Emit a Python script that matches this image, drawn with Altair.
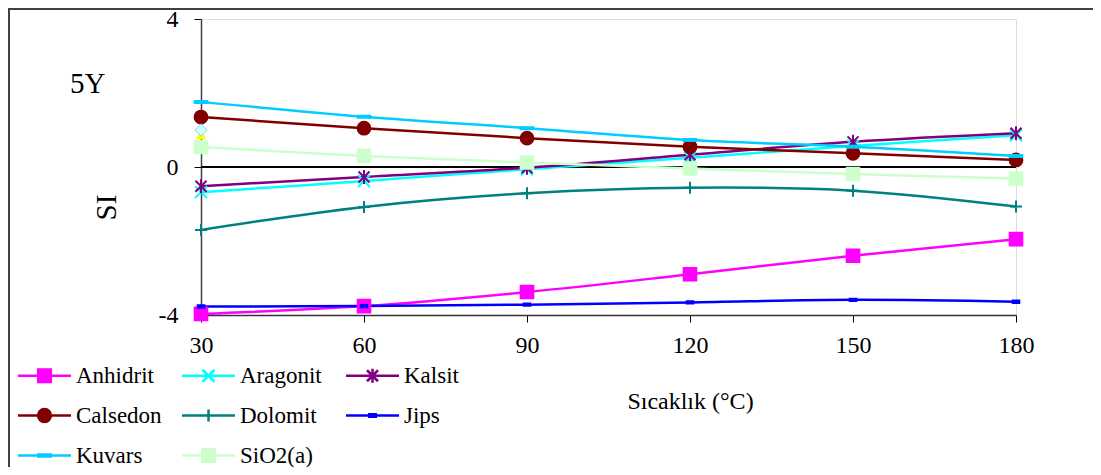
import altair as alt
import pandas as pd

# ---------------- data ----------------
temps = [30, 60, 90, 120, 150, 180]
series_names = ["Anhidrit", "Aragonit", "Kalsit", "Calsedon", "Dolomit", "Jips", "Kuvars", "SiO2(a)"]
anhidrit = [-3.97, -3.76, -3.38, -2.90, -2.40, -1.95]
aragonit = [-0.68, -0.38, -0.06, 0.25, 0.57, 0.86]
kalsit = [-0.52, -0.27, -0.02, 0.33, 0.68, 0.91]
calsedon = [1.35, 1.05, 0.78, 0.55, 0.37, 0.19]
dolomit = [-1.70, -1.08, -0.71, -0.56, -0.64, -1.07]
jips = [-3.77, -3.76, -3.72, -3.66, -3.59, -3.64]
kuvars = [1.76, 1.36, 1.05, 0.73, 0.55, 0.30]
sio2 = [0.54, 0.30, 0.12, -0.04, -0.19, -0.31]
series_values = [anhidrit, aragonit, kalsit, calsedon, dolomit, jips, kuvars, sio2]

# two stray single markers at 30 °C
extra_temp = [30]
diamond_si = [1.0]
triangle_si = [0.88]

x_ticks = [30, 60, 90, 120, 150, 180]
y_ticks = [-4, 0, 4]

# ---------------- styles ----------------
colors = ["#FF00FF", "#00FFFF", "#800080", "#800000", "#008080", "#0000FF", "#00CCFF", "#CCFFCC"]
FONT = "Liberation Serif"


def f(v):
    return f"{v:.3f}"


def square(h, u):
    a = h / u
    return f"M{f(-a)},{f(-a)}H{f(a)}V{f(a)}H{f(-a)}Z"


def rect(w, h, u):
    a, b = w / u, h / u
    return f"M{f(-a)},{f(-b)}H{f(a)}V{f(b)}H{f(-a)}Z"


def xmark(h, u):
    a = h / u
    return f"M{f(-a)},{f(-a)}L{f(a)},{f(a)}M{f(-a)},{f(a)}L{f(a)},{f(-a)}"


def asterisk(h, v, u):
    return xmark(h, u) + f"M0,{f(-v / u)}V{f(v / u)}"


def plus(h, u):
    a = h / u
    return f"M{f(-a)},0H{f(a)}M0,{f(-a)}V{f(a)}"


def circle(r, u):
    a = r / u
    return f"M{f(a)},0A{f(a)},{f(a)},0,1,1,{f(-a)},0A{f(a)},{f(a)},0,1,1,{f(a)},0Z"


def markers(u):
    return [
        square(6.3, u),
        xmark(6.0, u),
        asterisk(5.5, 7.0, u),
        circle(6.4, u),
        plus(6.0, u),
        rect(3.3, 1.2, u),
        rect(6.3, 1.0, u),
        square(6.3, u),
    ]


POINT_SIZE = 144.0               # unit = sqrt(size)/2 = 6 px
point_unit = POINT_SIZE ** 0.5 / 2
chart_paths = markers(point_unit)

LEG_SIZE = 175.5625              # unit = 6.625 px -> line of 53 px
leg_unit = LEG_SIZE ** 0.5 / 2
leg_line = f"M{f(-26.5 / leg_unit)},0H{f(26.5 / leg_unit)}"
legend_paths = [leg_line + p for p in markers(leg_unit)]

shape_expr = "'circle'"
for name, p in reversed(list(zip(series_names, legend_paths))):
    shape_expr = f"datum.value === '{name}' ? '{p}' : ({shape_expr})"

# ---------------- table ----------------
rows = []
for name, vals in zip(series_names, series_values):
    for t, v in zip(temps, vals):
        rows.append({"temp": t, "SI": v, "series": name})
df = pd.DataFrame(rows)

color_scale = alt.Scale(domain=series_names, range=colors)
# helper scales get one unused extra entry so that their (hidden) legends
# are not merged with the visible colour legend
stroke_scale = alt.Scale(domain=series_names + ["-"], range=colors + ["#000000"])
shape_scale = alt.Scale(domain=series_names + ["-"], range=chart_paths + ["circle"])

legend = alt.Legend(
    title=None,
    orient="none",
    legendX=-183,
    legendY=345,
    columns=3,
    direction="horizontal",
    gridAlign="all",
    columnPadding=15,
    rowPadding=16,
    padding=0,
    labelFont=alt.ExprRef(f"'{FONT}'"),
    labelFontSize=23,
    labelFontWeight="normal",
    labelColor="black",
    labelLimit=300,
    symbolSize=LEG_SIZE,
    symbolStrokeWidth=2.5,
    symbolOpacity=1,
    symbolOffset=15,
    labelOffset=20,
    symbolType=alt.ExprRef(shape_expr),
    symbolStrokeColor=alt.ExprRef("scale('color', datum.value)"),
)

x_enc = alt.X(
    "temp:Q",
    scale=alt.Scale(domain=[30, 180], nice=False, zero=False),
    axis=alt.Axis(
        values=x_ticks,
        labelExpr="'' + datum.value",
        title="Sıcaklık (°C)",
        grid=False,
        labelFont=FONT,
        labelFontSize=24,
        labelColor="black",
        labelPadding=11,
        labelFlush=False,
        labelOverlap=False,
        tickSize=7,
        tickColor="black",
        tickWidth=1,
        domainColor="#333333",
        domainWidth=1.5,
        titleFont=FONT,
        titleFontSize=24,
        titleFontWeight="normal",
        titleColor="black",
        titleX=489,
        titleY=93,
        titleAlign="center",
        titleBaseline="alphabetic",
    ),
)
y_enc = alt.Y(
    "SI:Q",
    scale=alt.Scale(domain=[-4, 4], nice=False, zero=False),
    axis=alt.Axis(
        values=y_ticks,
        labelExpr="'' + datum.value",
        title="SI",
        grid=False,
        labelFont=FONT,
        labelFontSize=24,
        labelColor="black",
        labelPadding=16,
        labelFlush=False,
        labelOverlap=False,
        tickSize=7,
        tickColor="black",
        tickWidth=1,
        domainColor="#404040",
        domainWidth=1.5,
        titleFont=FONT,
        titleFontSize=29,
        titleFontWeight="normal",
        titleColor="black",
        titleX=-95,
        titleY=188,
        titleAngle=270,
        titleAlign="center",
        titleBaseline="middle",
    ),
)

lines = alt.Chart(df).mark_line(strokeWidth=2.5, interpolate="catmull-rom").encode(
    x=x_enc,
    y=y_enc,
    stroke=alt.Stroke("series:N", scale=stroke_scale, legend=None),
)

points = alt.Chart(df).mark_point(filled=True, opacity=1, strokeWidth=2, size=POINT_SIZE).encode(
    x=x_enc,
    y=y_enc,
    color=alt.Color("series:N", scale=color_scale, legend=legend),
    shape=alt.Shape("series:N", scale=shape_scale, legend=None),
    stroke=alt.Stroke("series:N", scale=stroke_scale, legend=None),
)

zero_rule = alt.Chart(df).mark_rule(color="black", strokeWidth=1).encode(y=alt.datum(0))

frame = alt.Chart(df).mark_rect(fill=None, stroke="#404040", strokeWidth=1.5).encode(
    x=alt.value(-192.5), x2=alt.value(900), y=alt.value(-10.5), y2=alt.value(470)
)

extra_df = pd.DataFrame({"temp": extra_temp, "d": diamond_si, "t": triangle_si})
tri = alt.Chart(extra_df).mark_point(
    shape="triangle-up", filled=True, fill="#FFFF00", opacity=1, size=110
).encode(x="temp:Q", y="t:Q")
dia = alt.Chart(extra_df).mark_point(
    shape="diamond", filled=True, fill="#CCFFFF", stroke="#99CCEE", strokeWidth=1, opacity=1, size=150
).encode(x="temp:Q", y="d:Q")

chart = (
    alt.layer(frame, zero_rule, lines, points, tri, dia)
    .properties(
        width=815,
        height=296,
        padding={"left": 193, "top": 11, "right": 77, "bottom": 152},
        autosize=alt.AutoSizeParams(type="none"),
        title=alt.TitleParams(
            text="5Y",
            orient="top",
            anchor="start",
            frame="group",
            offset=0,
            dx=-131,
            dy=115,
            font=FONT,
            fontSize=29,
            fontWeight="normal",
            color="black",
            baseline="alphabetic",
        ),
    )
    .configure_view(stroke="#808080", strokeWidth=2)
    .configure_legend(labelFont=FONT, labelFontSize=23, labelColor="black")
    .configure(background="white", font=FONT, style={"guide-label": {"font": FONT}})
)

chart.save("out.html", embed_options={"renderer": "svg", "actions": False})
